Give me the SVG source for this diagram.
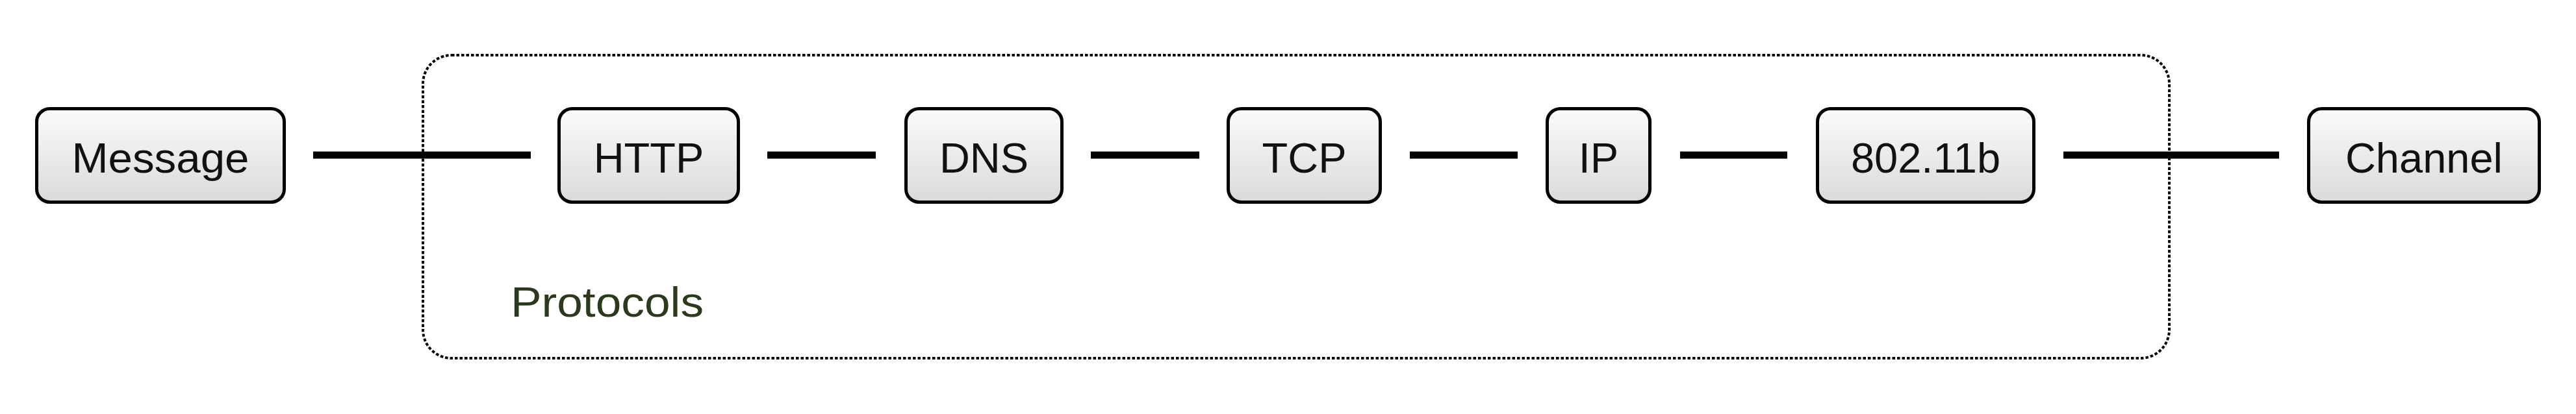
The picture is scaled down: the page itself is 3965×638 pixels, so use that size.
<svg xmlns="http://www.w3.org/2000/svg" width="3965" height="638" viewBox="0 0 3965 638">
<defs>
<linearGradient id="nodeFill" x1="0" y1="0" x2="0" y2="1">
<stop offset="0" stop-color="#fbfbfb"/>
<stop offset="1" stop-color="#dadada"/>
</linearGradient>
<style>
.node rect{fill:url(#nodeFill);stroke:#000;stroke-width:5}
.node text{font-family:"Liberation Sans",Arial,sans-serif;font-size:65px;fill:#111;text-anchor:middle}
.edge{stroke:#000;stroke-width:11;fill:none}
.group{fill:none;stroke:#000;stroke-width:4;stroke-dasharray:4.5 3}
.glabel{font-family:"Liberation Sans",Arial,sans-serif;font-size:64px;fill:#2b3a1c}
</style>
</defs>
<rect width="3965" height="638" fill="#fff"/>
<g id="protocols-group">
<rect class="group" x="651" y="85" width="2688" height="467" rx="44" ry="44"/>
<text class="glabel" x="786" y="488" textLength="297" lengthAdjust="spacingAndGlyphs">Protocols</text>
</g>
<g id="connectors">
<line class="edge" x1="482" y1="239" x2="817" y2="239"/>
<line class="edge" x1="1181" y1="239" x2="1348" y2="239"/>
<line class="edge" x1="1679" y1="239" x2="1846" y2="239"/>
<line class="edge" x1="2170" y1="239" x2="2336" y2="239"/>
<line class="edge" x1="2586" y1="239" x2="2751" y2="239"/>
<line class="edge" x1="3176" y1="239" x2="3508" y2="239"/>
</g>
<g id="node-message" class="node">
<rect x="56.5" y="167.5" width="381" height="144" rx="20" ry="20"/>
<text x="247" y="266" textLength="273" lengthAdjust="spacingAndGlyphs">Message</text>
</g>
<g id="node-http" class="node">
<rect x="860.5" y="167.5" width="276" height="144" rx="20" ry="20"/>
<text x="998.5" y="266">HTTP</text>
</g>
<g id="node-dns" class="node">
<rect x="1394.5" y="167.5" width="240" height="144" rx="20" ry="20"/>
<text x="1514.5" y="266">DNS</text>
</g>
<g id="node-tcp" class="node">
<rect x="1890.5" y="167.5" width="234" height="144" rx="20" ry="20"/>
<text x="2007.5" y="266">TCP</text>
</g>
<g id="node-ip" class="node">
<rect x="2381.5" y="167.5" width="158" height="144" rx="20" ry="20"/>
<text x="2460.5" y="266">IP</text>
</g>
<g id="node-80211b" class="node">
<rect x="2797.5" y="167.5" width="333" height="144" rx="20" ry="20"/>
<text x="2964" y="266">802.11b</text>
</g>
<g id="node-channel" class="node">
<rect x="3553.5" y="167.5" width="355" height="144" rx="20" ry="20"/>
<text x="3731" y="266">Channel</text>
</g>
</svg>
